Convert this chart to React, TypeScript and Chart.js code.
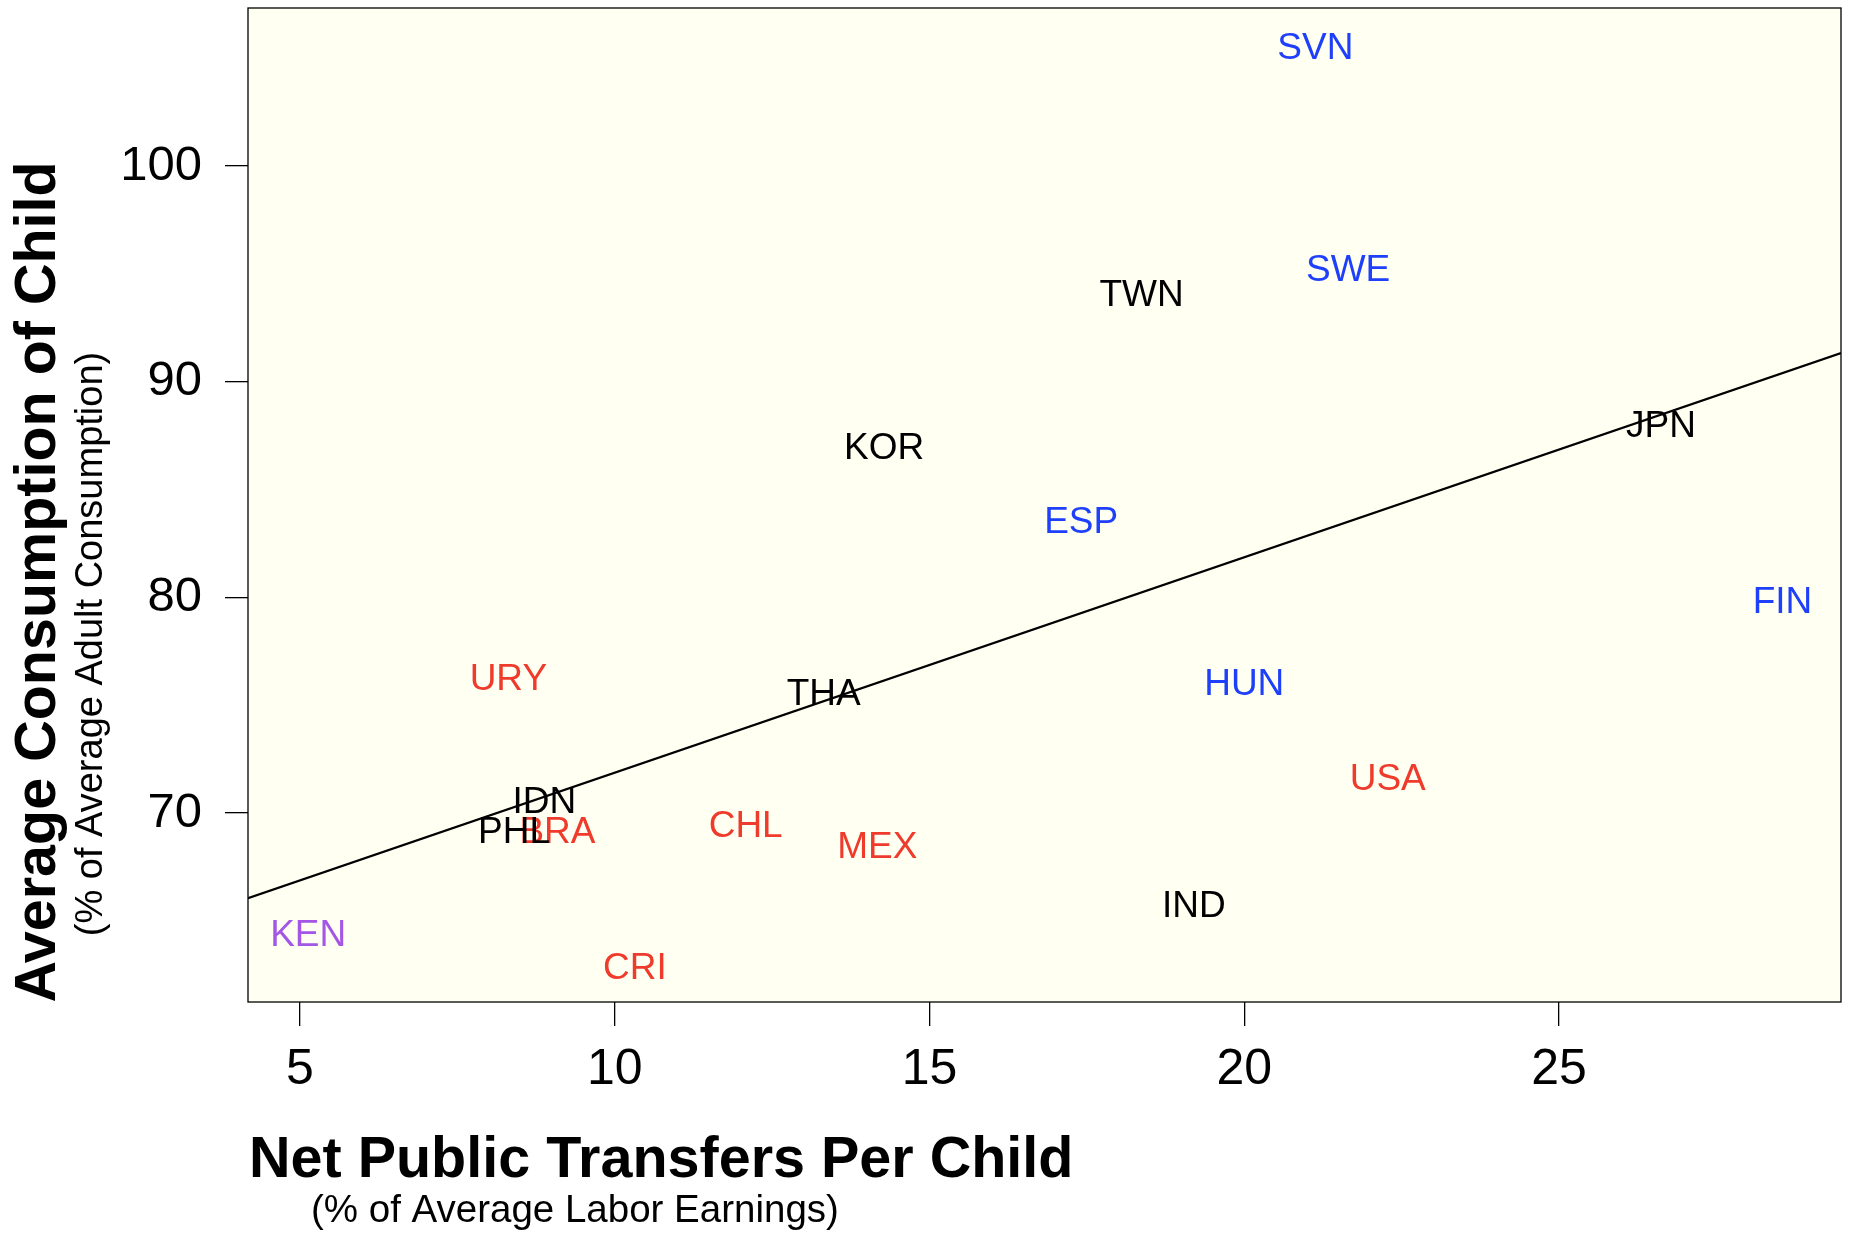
import React, { useEffect, useRef } from 'react';
import { Chart, registerables } from 'chart.js';

Chart.register(...registerables);

// ---- data ----
const countries = ['SVN', 'SWE', 'TWN', 'JPN', 'KOR', 'ESP', 'FIN', 'URY', 'THA', 'HUN', 'USA', 'IDN', 'PHL', 'BRA', 'CHL', 'MEX', 'IND', 'KEN', 'CRI'];
const transfers = [21.13, 21.65, 18.37, 26.62, 14.28, 17.41, 28.55, 8.31, 13.32, 20.0, 22.28, 8.88, 8.4, 9.09, 12.08, 14.17, 19.2, 5.13, 10.32];
const childConsumption = [105.56, 95.29, 94.11, 88.06, 87.04, 83.59, 79.88, 76.33, 75.64, 76.08, 71.7, 70.61, 69.24, 69.22, 69.52, 68.52, 65.79, 64.44, 62.93];
const groups = ['blue', 'blue', 'black', 'black', 'black', 'blue', 'blue', 'red', 'black', 'blue', 'red', 'black', 'black', 'red', 'red', 'red', 'black', 'purple', 'red'];
const groupOrder = ['red', 'purple', 'blue', 'black'];
const groupColors: Record<string, string> = { red: '#ef3b2c', purple: '#a457e6', blue: '#1e40fb', black: '#000000' };

const fitIntercept = 61.89;
const fitSlope = 0.9986;

const xTicks = [5, 10, 15, 20, 25];
const yTicks = [70, 80, 90, 100];
const xMin = 4.174;
const xMax = 29.48;
const yMin = 61.24;
const yMax = 107.33;

const yTitle = 'Average Consumption of Child';
const ySubtitle = '(% of Average Adult Consumption)';
const xTitle = 'Net Public Transfers Per Child';
const xSubtitle = '(% of Average Labor Earnings)';

const FONT = '"Liberation Sans", Arial, Helvetica, sans-serif';

export default function App() {
  const canvasRef = useRef<HTMLCanvasElement | null>(null);

  useEffect(() => {
    const canvas = canvasRef.current;
    if (!canvas) return;

    const datasets: any[] = groupOrder.map((g) => {
      const idx = countries.map((_, i) => i).filter((i) => groups[i] === g);
      return {
        type: 'scatter',
        label: g,
        labels: idx.map((i) => countries[i]),
        data: idx.map((i) => ({ x: transfers[i], y: childConsumption[i] })),
        pointRadius: 0,
        pointHoverRadius: 0,
        showLine: false,
        order: 0,
      };
    });
    datasets.unshift({
      type: 'line',
      label: 'fit',
      data: [
        { x: xMin, y: fitIntercept + fitSlope * xMin },
        { x: xMax, y: fitIntercept + fitSlope * xMax },
      ],
      borderColor: '#000000',
      borderWidth: 2.2,
      pointRadius: 0,
      fill: false,
      order: 1,
    });

    const bgPlugin = {
      id: 'bg',
      beforeDraw(chart: any) {
        const { ctx, chartArea } = chart;
        ctx.save();
        ctx.fillStyle = '#ffffff';
        ctx.fillRect(0, 0, chart.width, chart.height);
        ctx.fillStyle = '#fffff2';
        ctx.fillRect(chartArea.left, chartArea.top, chartArea.right - chartArea.left, chartArea.bottom - chartArea.top);
        ctx.restore();
      },
    };

    const labelPlugin = {
      id: 'pointLabels',
      afterDatasetsDraw(chart: any) {
        const { ctx } = chart;
        ctx.save();
        const size = 37;
        ctx.font = `${size}px ${FONT}`;
        ctx.textAlign = 'center';
        ctx.textBaseline = 'alphabetic';
        chart.data.datasets.forEach((ds: any, di: number) => {
          if (!ds.labels) return;
          const meta = chart.getDatasetMeta(di);
          ctx.fillStyle = groupColors[ds.label];
          meta.data.forEach((pt: any, j: number) => {
            ctx.fillText(ds.labels[j], pt.x, pt.y + size * 0.358);
          });
        });
        ctx.restore();
      },
    };

    const framePlugin = {
      id: 'frame',
      afterDraw(chart: any) {
        const { ctx, chartArea } = chart;
        ctx.save();
        ctx.strokeStyle = '#000000';
        ctx.lineWidth = 1.3;
        ctx.strokeRect(chartArea.left, chartArea.top, chartArea.right - chartArea.left, chartArea.bottom - chartArea.top);

        // axis titles
        ctx.fillStyle = '#000000';
        ctx.textBaseline = 'alphabetic';
        ctx.save();
        ctx.translate(55, 582);
        ctx.rotate(-Math.PI / 2);
        ctx.textAlign = 'center';
        ctx.font = `bold 57.5px ${FONT}`;
        ctx.fillText(yTitle, 0, 0);
        ctx.restore();
        ctx.save();
        ctx.translate(102, 644);
        ctx.rotate(-Math.PI / 2);
        ctx.textAlign = 'center';
        ctx.font = `38px ${FONT}`;
        ctx.fillText(ySubtitle, 0, 0);
        ctx.restore();
        ctx.textAlign = 'left';
        ctx.font = `bold 57.5px ${FONT}`;
        ctx.fillText(xTitle, chartArea.left + 1, 1177);
        ctx.font = `38.5px ${FONT}`;
        ctx.fillText(xSubtitle, 311, 1222);
        ctx.restore();
      },
    };

    const chart = new Chart(canvas, {
      type: 'scatter',
      data: { datasets },
      options: {
        animation: false,
        responsive: false,
        maintainAspectRatio: false,
        devicePixelRatio: 1,
        layout: { padding: { top: 8, right: 12, left: 0, bottom: 0 } },
        plugins: {
          legend: { display: false },
          tooltip: { enabled: false },
          title: { display: false },
        },
        scales: {
          x: {
            type: 'linear',
            min: xMin,
            max: xMax,
            afterBuildTicks: (scale: any) => {
              scale.ticks = xTicks.map((v) => ({ value: v }));
            },
            afterFit: (scale: any) => {
              scale.height = 233;
              scale.paddingLeft = 0;
              scale.paddingRight = 0;
              scale.paddingTop = 0;
              scale.paddingBottom = 0;
            },
            border: { display: false },
            grid: {
              display: true,
              drawOnChartArea: false,
              drawTicks: true,
              tickLength: 24,
              color: '#000000',
              lineWidth: 1.3,
            },
            ticks: {
              color: '#000000',
              font: { family: FONT, size: 50 },
              padding: 14,
              maxRotation: 0,
              autoSkip: false,
              callback: (v: any) => String(v),
            },
          },
          y: {
            type: 'linear',
            min: yMin,
            max: yMax,
            afterBuildTicks: (scale: any) => {
              scale.ticks = yTicks.map((v) => ({ value: v }));
            },
            afterFit: (scale: any) => {
              scale.width = 248;
              scale.paddingTop = 0;
              scale.paddingBottom = 0;
              scale.paddingLeft = 0;
              scale.paddingRight = 0;
            },
            border: { display: false },
            grid: {
              display: true,
              drawOnChartArea: false,
              drawTicks: true,
              tickLength: 23,
              color: '#000000',
              lineWidth: 1.3,
            },
            ticks: {
              color: '#000000',
              font: { family: FONT, size: 49 },
              padding: 23,
              autoSkip: false,
              callback: (v: any) => String(v),
            },
          },
        },
      },
      plugins: [bgPlugin, labelPlugin, framePlugin],
    } as any);

    return () => {
      chart.destroy();
    };
  }, []);

  return (
    <div style={{ position: 'absolute', left: 0, top: 0, width: 1853, height: 1235, background: '#ffffff' }}>
      <canvas ref={canvasRef} width={1853} height={1235} style={{ width: 1853, height: 1235, display: 'block' }} />
    </div>
  );
}
